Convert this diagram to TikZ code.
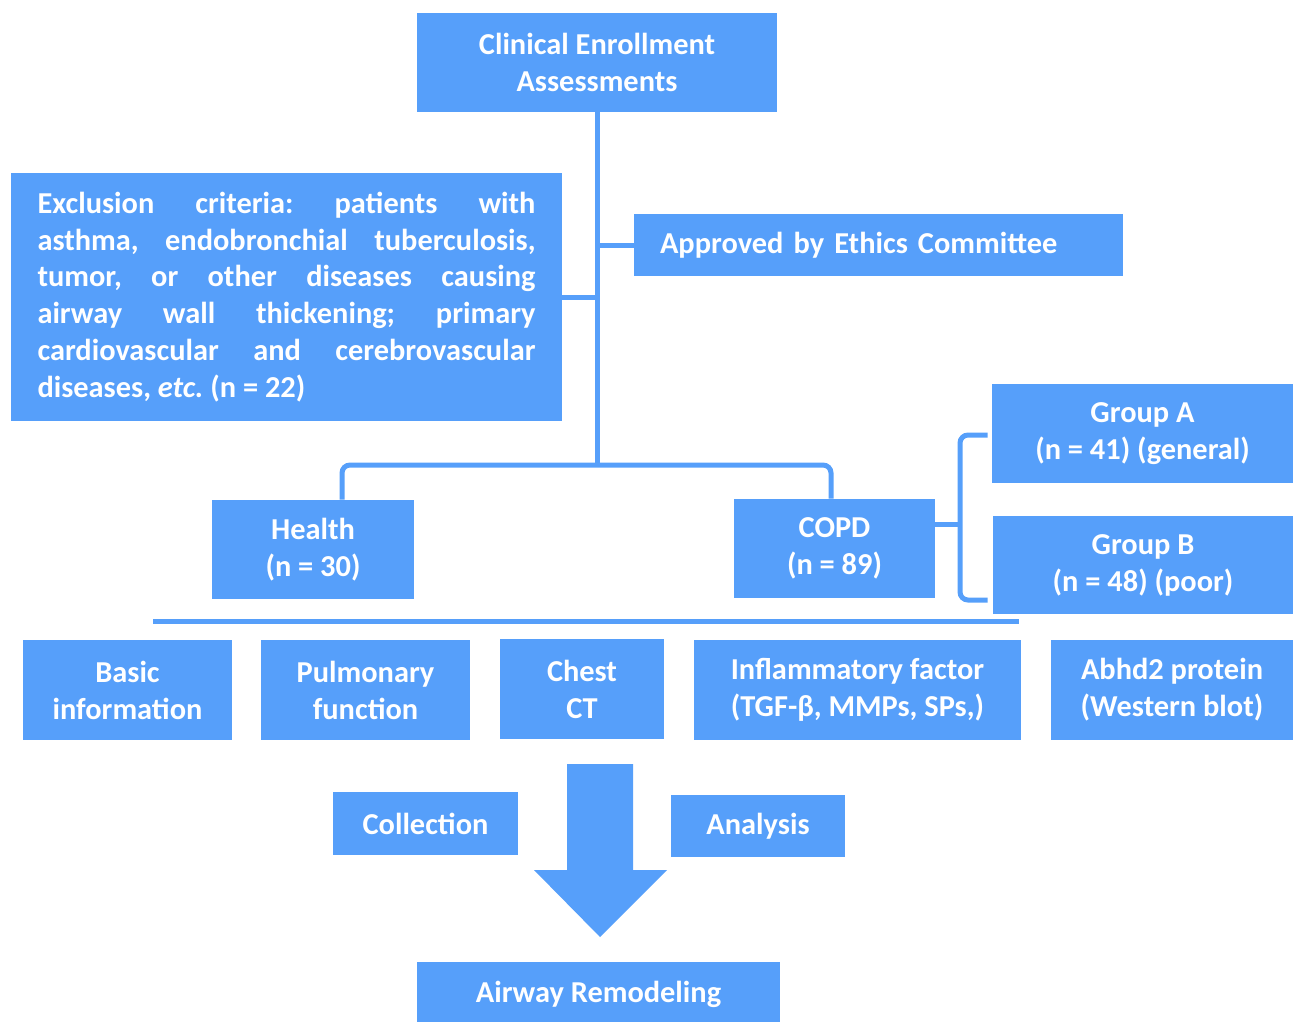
\documentclass[tikz,border=0pt]{standalone}
\usepackage{fontspec}
\setmainfont{Carlito}
\definecolor{bl}{RGB}{86,159,250}
\newdimen\pxu \pxu=0.02cm
\hyphenpenalty=10000 \exhyphenpenalty=10000
\frenchspacing
\tikzset{
  bx/.style={fill=bl, draw=none, text=white, align=center, inner sep=0pt,
    font=\bfseries\fontsize{17.3}{21}\selectfont\frenchspacing},
  ln/.style={draw=bl, line width=5\pxu},
}
\begin{document}
\begin{tikzpicture}[x=0.02cm, y=-0.02cm]
\useasboundingbox (0,0) rectangle (1293,1021);
% boxes
\node[bx, minimum width=360\pxu, minimum height=99\pxu] (top) at (597,62.5) {Clinical Enrollment\\Assessments};
\node[bx, minimum width=551\pxu, minimum height=248\pxu, text width=498\pxu, align=justify] (excl) at (286.5,297)
 {Exclusion criteria: patients with\linebreak asthma, endobronchial tuberculosis,\linebreak tumor, or other diseases causing\linebreak airway wall thickening; primary\linebreak cardiovascular and cerebrovascular\linebreak diseases, \textit{etc.} (n = 22)};
\node[bx, minimum width=489\pxu, minimum height=62\pxu, text width=437\pxu, inner xsep=26\pxu, align=left] (appr) at (878.5,245) {Approved by Ethics Committee};
\node[bx, minimum width=202\pxu, minimum height=99\pxu] (health) at (313,549.5) {Health\\(n = 30)};
\node[bx, minimum width=201\pxu, minimum height=99\pxu] (copd) at (834.5,548.5) {COPD\\(n = 89)};
\node[bx, minimum width=301\pxu, minimum height=99\pxu] (gA) at (1142.5,433.5) {Group A\\(n = 41) (general)};
\node[bx, minimum width=300\pxu, minimum height=98\pxu] (gB) at (1143,565) {Group B\\(n = 48) (poor)};
\node[bx, minimum width=209\pxu, minimum height=100\pxu] (basic) at (127.5,690) {Basic\\information};
\node[bx, minimum width=209\pxu, minimum height=100\pxu] (pulm) at (365.5,690) {Pulmonary\\function};
\node[bx, minimum width=164\pxu, minimum height=100\pxu] (chest) at (582,689) {Chest\\CT};
\node[bx, minimum width=327\pxu, minimum height=100\pxu] (infl) at (857.5,690) {Inflammatory factor\\(TGF-β, MMPs, SPs,)};
\node[bx, minimum width=242\pxu, minimum height=100\pxu] (abhd) at (1172,690) {Abhd2 protein\\(Western blot)};
\node[bx, minimum width=185\pxu, minimum height=63\pxu] (coll) at (425.5,823.5) {Collection};
\node[bx, minimum width=174\pxu, minimum height=62\pxu] (anal) at (758,826) {Analysis};
\node[bx, minimum width=363\pxu, minimum height=64\pxu] (airway) at (598.5,994) {Airway Remodeling};
% big arrow
\fill[bl] (567,764) -- (633,764) -- (633,870) -- (667,870) -- (600,937) -- (534,870) -- (567,870) -- cycle;
% connectors
\coordinate (hL) at (342,465);
\coordinate (cR) at (831,465);
\draw[ln] (top.south) -- (top.south |- hL);
\draw[ln] (excl.east) -- (excl.east -| top.south);
\draw[ln] (appr.west) -- (appr.west -| top.south);
\draw[ln, rounded corners=8\pxu] (health.north -| hL) -- (hL) -- (cR) -- (copd.north -| cR);
\coordinate (cp) at (960,524);
\coordinate (bt) at (960,435);
\coordinate (bb) at (960,600);
\draw[ln] (copd.east |- cp) -- (cp);
\draw[ln, rounded corners=8\pxu] ([xshift=-4\pxu]gA.west |- bt) -- (bt) -- (bb) -- ([xshift=-5\pxu]gB.west |- bb);
\coordinate (sL) at (153,621);
\coordinate (sR) at (1019,621);
\draw[ln] (sL) -- (sR);
\end{tikzpicture}
\end{document}
